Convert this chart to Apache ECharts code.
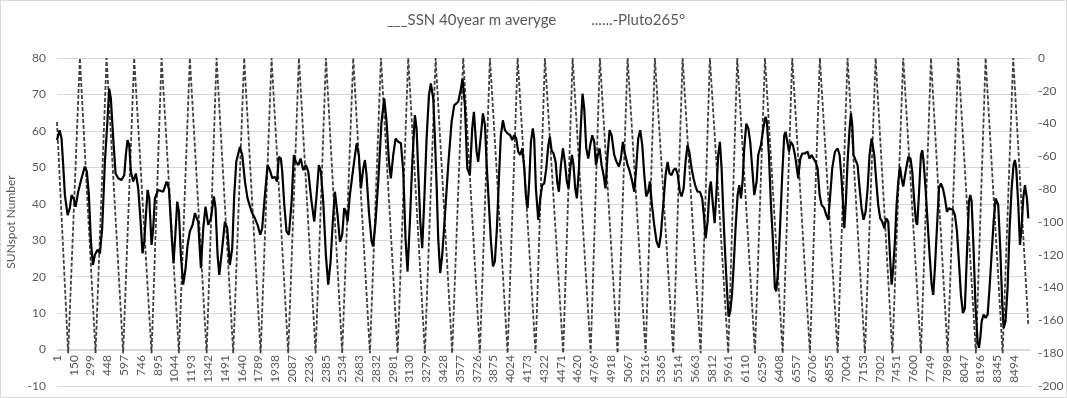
<!DOCTYPE html>
<html>
<head>
<meta charset="utf-8">
<script src="https://cdn.jsdelivr.net/npm/echarts@6/dist/echarts.min.js"></script>
<style>
  html, body { margin: 0; padding: 0; background: #fff; }
  #chart { width: 1067px; height: 398px; }
</style>
</head>
<body>
<div id="chart"></div>
<script>
// row numbers on the category axis (1 .. stepCount), labels every 149 rows
const stepCount = 8636
const labelEvery = 149

// SSN 40 year moving average (row, value)
const ssnSteps = [
  1, 24, 41, 56, 71, 95, 115, 130, 148, 166, 189, 219, 248, 266, 284, 302, 320, 337, 361, 382, 402, 426, 450, 464, 479, 500,
  521, 544, 574, 598, 612, 627, 642, 657, 677, 701, 722, 743, 760, 775, 790, 805, 820, 840, 855, 870, 899, 944, 973, 994,
  1018, 1035, 1053, 1068, 1083, 1100, 1121, 1142, 1160, 1180, 1204,
  1225, 1254, 1278, 1299, 1319, 1343, 1367, 1393, 1408, 1426, 1441, 1461, 1491, 1512, 1535, 1556, 1574, 1592, 1624, 1645,
  1669, 1692, 1728, 1757, 1781, 1805, 1822, 1846, 1870, 1890, 1911, 1935, 1953, 1970, 1988, 2000, 2018, 2038, 2059, 2083,
  2103, 2121, 2142, 2163, 2186, 2210, 2231, 2260, 2284, 2305, 2325, 2343, 2364, 2387, 2408, 2429, 2447,
  2467, 2491, 2512, 2532, 2550, 2565, 2580, 2600, 2630, 2660, 2680, 2698, 2719, 2734, 2748, 2769, 2793, 2807, 2828, 2852,
  2881, 2905, 2926, 2947, 2964, 2985, 3006, 3029, 3053, 3074, 3094, 3112, 3133, 3154, 3177, 3192, 3207, 3225, 3242, 3260,
  3281, 3302, 3319, 3340, 3355, 3370, 3384, 3402, 3420, 3444, 3473, 3503, 3526, 3562, 3586, 3600, 3621, 3642, 3665, 3686, 3701,
  3710, 3725, 3739, 3763, 3781, 3799, 3816, 3834, 3852, 3870, 3887, 3905, 3923, 3940, 3958, 3976, 4000, 4023, 4041, 4059,
  4077, 4094, 4112, 4130, 4148, 4162, 4177, 4192, 4207, 4224, 4236, 4251, 4272, 4290, 4307, 4325, 4343, 4361, 4375, 4390,
  4408, 4426, 4440, 4455, 4473, 4491, 4508, 4526, 4541, 4556, 4571, 4585, 4600, 4615, 4633, 4650, 4665, 4680, 4698, 4716,
  4733, 4751, 4769, 4784, 4798, 4816, 4834, 4852, 4869, 4887, 4905, 4923, 4946,
  4967, 4988, 5005, 5023, 5041, 5065, 5085, 5106, 5124, 5139, 5159, 5177, 5195, 5213, 5230, 5248, 5263, 5278, 5301, 5322,
  5343, 5360, 5381, 5402, 5420, 5437, 5455, 5473, 5491, 5508, 5529, 5544, 5562, 5579, 5597, 5612, 5633, 5650, 5668, 5686,
  5707, 5727, 5742, 5757, 5775, 5792, 5804, 5822, 5837, 5852, 5869, 5884, 5899, 5914, 5928, 5946, 5961, 5976, 5991, 6005,
  6023, 6041, 6056, 6071, 6085, 6100, 6118, 6136, 6153, 6171, 6189,
  6210, 6224, 6248, 6269, 6289, 6301, 6319, 6337, 6355, 6372, 6384, 6402, 6420, 6437, 6455, 6467, 6482, 6497, 6514, 6532,
  6550, 6567, 6579, 6597, 6615, 6638, 6662, 6680, 6698, 6715, 6733, 6751, 6769, 6786, 6810, 6828, 6846, 6863, 6881, 6905,
  6928, 6946, 6961, 6976, 6988, 7002, 7017, 7035, 7047, 7059, 7070, 7088, 7106, 7124, 7141, 7159, 7177, 7195, 7212, 7230,
  7242, 7254, 7272, 7289, 7307, 7325, 7343, 7360, 7378, 7393, 7408, 7422,
  7437, 7452, 7467, 7482, 7496, 7511, 7532, 7556, 7576, 7591, 7609, 7624, 7635, 7650, 7668, 7680, 7692, 7709, 7727, 7745,
  7763, 7777, 7792, 7810, 7828, 7845, 7863, 7881, 7899, 7917, 7934, 7952, 7970, 7988, 8005, 8023, 8041, 8058, 8076, 8094,
  8106, 8118, 8135, 8153, 8171, 8183, 8195, 8207, 8224, 8242, 8260, 8277, 8295, 8313, 8331, 8342, 8354, 8372, 8390, 8402,
  8419, 8437, 8455, 8473, 8490, 8502, 8514, 8532, 8547, 8561, 8576, 8591, 8609, 8621
]
const ssnValues = [
  57.5, 60.2, 58, 50.6, 42.4, 36.9, 38.8, 42.4, 41.5, 39.2, 43.3, 47, 50.2, 48.8, 42.4, 29.6, 23.2, 26, 27.4, 26.4, 33.3, 51.5, 63.4, 71.6, 68.9, 57.9,
  48.3, 47, 46.5, 47.9, 53.4, 57.5, 56.1, 48.8, 46.1, 48.3, 44.2, 35.1, 26.4, 29.6, 36.9, 43.8, 41.5, 28.7, 33.3, 41.5, 43.8, 43.3, 46.1, 44.2,
  31.5, 23.7, 32.4, 40.6, 37.8, 26, 17.8, 22.3, 28.7, 32.4, 34.2,
  37.4, 35.1, 22.3, 33.3, 39.2, 34.2, 36, 42, 38.8, 26, 20.5, 26, 35.1, 33.3, 23.2, 27.8, 42.4, 51.5, 55.6, 53.4,
  46.1, 41.5, 37.8, 36, 34.2, 31.5, 33.3, 42.4, 50.6, 49.3, 47, 47.4, 46.1, 52.9, 52.4, 48.8, 39.7, 32.4, 31.5, 40.6,
  53.4, 51.5, 50.6, 52.4, 49.3, 50.6, 48.8, 40.6, 35.1, 42.4, 50.6, 48.8, 40.6, 26, 17.8, 24.2, 34.2,
  43.3, 36.9, 29.6, 31.5, 38.8, 37.8, 35.1, 42.4, 49.7, 56.6, 53.4, 44.2, 49.7, 52, 47.9, 37.8, 29.6, 28.3, 35.1, 46.1,
  62.5, 68.9, 62.5, 51.5, 47, 53.4, 57.9, 57, 56.6, 48.8, 30.5, 21.4, 35.1, 51.5, 64.3, 60.7, 48.8, 35.1, 27.8, 40.6,
  57.9, 69.8, 73, 68.9, 57.9, 45.1, 30.5, 21, 26, 36.9, 50.6, 62.5, 67, 68, 71.6, 74.3, 67, 49.7, 47.9, 60.7, 65.2,
  61.1, 54.3, 51.5, 58.8, 64.8, 61.6, 49.7, 39.7, 29.6, 22.8, 24.2, 33.3, 47, 58.8, 62.9, 60.2, 59.3, 58.8, 57.5, 58.8,
  57.9, 54.3, 53.4, 55.2, 49.7, 42.4, 38.8, 46.1, 57, 60.7, 57.9, 44.2, 35.6, 41.5, 45.1, 45.6, 49.7, 56.1, 58.4, 54.7,
  53.8, 51.5, 46.1, 43.3, 50.6, 55.2, 51.5, 46.1, 44.2, 49.7, 53.4, 50.6, 44.2, 41.5, 49.7, 61.6, 70.2, 66.1, 55.2, 52.4,
  56.1, 58.8, 57, 50.6, 52.9, 55.2, 50.6, 47.9, 44.2, 53.4, 60.2, 58.8, 53.4,
  51.5, 50.2, 52.4, 57, 53.8, 50.6, 48.8, 46.1, 43.3, 48.8, 57.9, 60.2, 56.1, 47.9, 42, 43.3, 46.1, 40.6, 34.2, 29.6,
  28, 31.5, 39.7, 47.9, 51.5, 48.3, 47.9, 49.3, 49.7, 48.3, 43.3, 42, 44.2, 51.5, 56.1, 54.3, 49.7, 47, 44.7, 43.3,
  43.3, 41.5, 36.9, 30.5, 35.1, 44.2, 46.1, 39.7, 34.7, 42.4, 53.4, 57, 49.7, 37.8, 27.8, 16.9, 9, 10.5, 15, 22.3,
  33.3, 42.4, 45.1, 41.5, 46.1, 55.2, 62, 60.7, 57, 49.7, 42.4,
  46.1, 53.4, 56.1, 60.7, 63.9, 62.5, 53.4, 39.7, 29.6, 16.9, 16, 22.3, 35.1, 47.9, 58.8, 59.7, 57, 54.3, 57, 56.1,
  53.4, 49.7, 47, 52.4, 53.8, 53.8, 54.3, 52.4, 53.4, 52.4, 51.5, 49.7, 42.4, 39.7, 38.8, 36.9, 35.6, 42.4, 49.7, 54.3,
  55.2, 53.4, 47.9, 40.6, 33.3, 40.6, 51.5, 60.7, 64.8, 61.6, 53.4, 52, 50.6, 44.2, 38.8, 35.6, 37.8, 44.2, 53.4, 57.9,
  57.5, 53.4, 46.1, 39.7, 36, 35.1, 33.3, 36, 35.1, 26, 17.8, 22.3,
  29.6, 39.7, 46.1, 50.2, 47, 44.7, 48.8, 52.9, 52.4, 48.8, 40.6, 35.1, 34.2, 42.4, 53.4, 54.7, 51.5, 44.2, 35.1, 26,
  17.8, 15, 22.3, 33.3, 44.2, 45.6, 44.2, 41.5, 37.8, 38.8, 39.2, 38.3, 36.9, 32.4, 24.2, 15, 10, 11.4, 26, 40.6,
  42.4, 40.6, 27.8, 11.4, 2.3, 0.5, 3.2, 7.7, 9.6, 8.7, 9.6, 16.9, 26, 35.1, 41.5, 42, 39.7, 27.8, 12.3, 5.9,
  7.7, 16.9, 33.3, 44.2, 50.6, 52, 49.7, 39.7, 28.7, 33.3, 41.5, 45.1, 41.5, 36
]

// Pluto 265 deg, turning points (row, value on right axis)
const plutoSteps = [
  1, 100, 204, 343, 441, 588, 686, 840, 929, 1083, 1180, 1329, 1417, 1565, 1662, 1808, 1905, 2053, 2148, 2296, 2388,
  2532, 2630, 2778, 2876, 3024, 3118, 3266, 3361, 3508, 3606, 3754, 3843, 4000, 4089, 4248, 4331, 4493, 4577, 4737, 4819,
  4976, 5065, 5225, 5307, 5470, 5553, 5713, 5795, 5958, 6038, 6195, 6284, 6441, 6526, 6683, 6771, 6929, 7017, 7171, 7266,
  7415, 7511, 7668, 7757, 7905, 7999, 8156, 8242, 8393, 8487, 8621
]
const plutoValues = [
  -39, -180, 0, -180, 0, -180, 0, -180, 0, -180, 0, -180, 0, -180, 0, -180, 0, -180, 0, -180, 0,
  -180, 0, -180, 0, -180, 0, -180, 0, -180, 0, -180, 0, -180, 0, -180, 0, -180, 0, -180, 0,
  -180, 0, -180, 0, -180, 0, -180, 0, -180, 0, -180, 0, -180, 0, -180, 0, -180, 0, -180, 0,
  -180, 0, -180, 0, -180, 0, -180, 0, -180, 0, -163
]

const ssnName = '___SSN 40year m averyge'
const plutoName = '......-Pluto265°'

const categories = []
for (let i = 1; i <= stepCount; i++) categories.push(String(i))

const ssnData = ssnSteps.map((s, i) => [s - 1, ssnValues[i]])
const plutoData = plutoSteps.map((s, i) => [s - 1, plutoValues[i]])

const labelColor = '#595959'
const gridColor = '#d9d9d9'

const chart = echarts.init(document.getElementById('chart'))
const option = {
  animation: false,
  backgroundColor: '#fff',
  textStyle: { fontFamily: 'Lato, sans-serif' },
  graphic: [{
    type: 'rect',
    shape: { x: 0.5, y: 0.5, width: 1066, height: 397 },
    style: { fill: 'none', stroke: gridColor, lineWidth: 1 },
    silent: true
  }],
  legend: {
    top: 8,
    left: 'center',
    icon: 'none',
    itemWidth: 0,
    itemGap: 30,
    data: [ssnName, plutoName],
    textStyle: { color: labelColor, fontSize: 15, fontFamily: 'Lato, sans-serif' }
  },
  grid: {
    left: 57,
    right: 37,
    top: 58,
    bottom: 12,
    outerBoundsMode: 'none'
  },
  xAxis: {
    type: 'category',
    data: categories,
    boundaryGap: false,
    // the category axis sits on the left axis' zero line, like the sheet
    offset: -36,
    axisLine: { onZero: false, lineStyle: { color: gridColor } },
    axisTick: { show: false },
    axisLabel: {
      interval: labelEvery - 1,
      rotate: 90,
      color: labelColor,
      fontSize: 12,
      margin: 5
    },
    splitLine: { show: false }
  },
  yAxis: [
    {
      type: 'value',
      position: 'left',
      min: -10,
      max: 80,
      interval: 10,
      name: 'SUNspot Number',
      nameLocation: 'middle',
      nameGap: 36,
      nameTextStyle: { color: labelColor, fontSize: 12 },
      axisLine: { show: false },
      axisTick: { show: false },
      axisLabel: { color: labelColor, fontSize: 12, margin: 11 },
      splitLine: { lineStyle: { color: gridColor } }
    },
    {
      type: 'value',
      position: 'right',
      min: -200,
      max: 0,
      interval: 20,
      axisLine: { show: false },
      axisTick: { show: false },
      axisLabel: { color: labelColor, fontSize: 12, margin: 8 },
      splitLine: { show: false }
    }
  ],
  series: [
    {
      name: plutoName,
      type: 'line',
      yAxisIndex: 1,
      data: plutoData,
      showSymbol: false,
      z: 2,
      itemStyle: { color: '#404040' },
      lineStyle: { color: '#404040', width: 1.8, type: [4, 2] }
    },
    {
      name: ssnName,
      type: 'line',
      data: ssnData,
      showSymbol: false,
      z: 3,
      itemStyle: { color: '#000' },
      lineStyle: { color: '#000', width: 2.2 }
    }
  ]
}
chart.setOption(option)
</script>
</body>
</html>
